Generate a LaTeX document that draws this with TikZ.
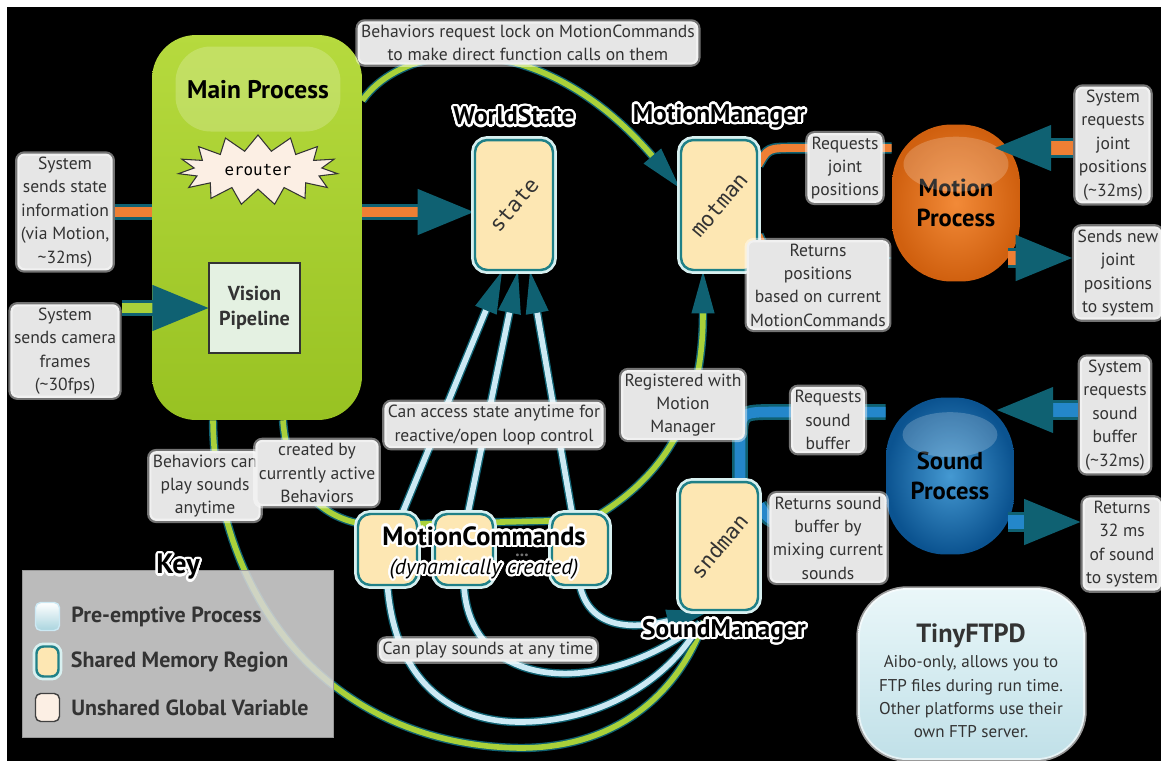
\documentclass[tikz,border=0pt]{standalone}
\usepackage{fontspec}
\setmainfont{PT Sans}
\setmonofont{DejaVu Sans Mono}
\usepackage{contour}
\contourlength{1.3pt}
\contournumber{24}
\usetikzlibrary{arrows.meta,shapes.symbols,calc}

\definecolor{limetop}{HTML}{B6DA3E}
\definecolor{limebot}{HTML}{98C222}
\definecolor{wiregreen}{HTML}{A9D13A}
\definecolor{tealx}{HTML}{0F6172}
\definecolor{barorange}{HTML}{EE7F34}
\definecolor{motorange}{HTML}{F28A38}
\definecolor{motdark}{HTML}{D0600F}
\definecolor{sndblue}{HTML}{2487CA}
\definecolor{snddark}{HTML}{0B5390}
\definecolor{wireblue}{HTML}{CCE9F4}
\definecolor{memyellow}{HTML}{FDE7B3}
\definecolor{boxteal}{HTML}{1F8087}
\definecolor{paleteal}{HTML}{D8F0F0}
\definecolor{erfill}{HTML}{FCEFE4}
\definecolor{visfill}{HTML}{E4F1E2}
\definecolor{keygray}{HTML}{D5D5D5}
\definecolor{notegray}{HTML}{E6E6E6}
\definecolor{ftptop}{HTML}{EAF7F9}
\definecolor{ftpbot}{HTML}{C0E0E8}
\definecolor{textgray}{HTML}{333333}

\pgfdeclarelayer{back}
\pgfdeclarelayer{wires}
\pgfdeclarelayer{front}
\pgfsetlayers{back,wires,main,front}

\newcommand\notesize{\fontsize{10}{13.3}\selectfont}
\newcommand\titlesize{\fontsize{14.5}{16}\selectfont}

\tikzset{
  note/.style={fill=notegray, rounded corners=4pt, inner sep=2pt, align=center,
    font=\notesize, text=textgray, draw=white, draw opacity=0.45, line width=2.5pt},
  shm/.style={rectangle, rounded corners=7pt, fill=memyellow, draw=boxteal,
    line width=1.4pt, preaction={draw=paleteal, line width=4.5pt}},
  memtext/.style={rotate=50, font=\ttfamily\fontsize{12}{12}\selectfont, text=black!80},
  bigtitle/.style={font=\titlesize\bfseries, text=black},
  gloss/.style={fill=white, fill opacity=0.2, draw=none},
  proc/.style 2 args={rectangle, rounded corners=34pt, minimum width=2.56cm,
    minimum height=3.14cm, inner color=#1, outer color=#2, align=center,
    font=\fontsize{14}{17}\bfseries\selectfont},
  bar/.style={draw=tealx, line width=1.5pt, double=#1, double distance=6pt},
  fatbar/.style={draw=tealx, line width=1.3pt, double=#1, double distance=8.5pt},
  thinbar/.style={draw=tealx, line width=0.9pt, double=#1, double distance=4.5pt},
  wire/.style={draw=tealx, line width=0.8pt, double=#1, double distance=3.2pt},
  bighead/.style={-{Triangle[length=32pt,width=26pt]}},
  midhead/.style={-{Triangle[length=18pt,width=15pt]}},
  smallhead/.style={-{Triangle[length=24pt,width=13pt]}},
  keyicon/.style={rectangle, minimum width=0.48cm, minimum height=0.56cm,
    rounded corners=3pt, line width=0.8pt},
  keytext/.style={anchor=west, font=\fontsize{12.5}{14}\bfseries\selectfont, text=black!80},
}

\begin{document}
\begin{tikzpicture}[x=0.02cm, y=-0.02cm]
\useasboundingbox (0,0) rectangle (1161,769);
\begin{pgfonlayer}{back}
  \fill[white] (0,0) rectangle (1161,769);
  \fill[black] (7,7) rectangle (1161,761);
\end{pgfonlayer}

% Main Process
\node[rectangle, rounded corners=25pt, minimum width=4.2cm, minimum height=7.7cm,
  top color=limetop, bottom color=limebot] (main) at (257,227.5) {};
\node[gloss, rounded corners=20pt, minimum width=3.3cm, minimum height=1.7cm] (maingloss) at (258,89) {};
\node[bigtitle] (maintitle) at (258,90) {Main Process};
\node[starburst, starburst points=15, starburst point height=9pt, random starburst=0,
  fill=erfill, draw=black!80, line width=0.6pt, minimum width=3.2cm, minimum height=1.4cm,
  font=\ttfamily\fontsize{9}{10}\selectfont] (erouter) at (258,170) {erouter};
\node[rectangle, draw=black!80, line width=0.6pt, fill=visfill, minimum width=1.82cm,
  minimum height=1.8cm, align=center, font=\fontsize{11.5}{14}\bfseries\selectfont,
  text=textgray] (vision) at (254.5,308) {Vision\\Pipeline};

% Shared memory regions
\node[shm, minimum width=1.56cm, minimum height=2.6cm] (state) at (514,205) {};
\node[memtext] (statetext) at (state) {state};
\node[shm, minimum width=1.52cm, minimum height=2.6cm] (motman) at (719,205) {};
\node[memtext] (motmantext) at (motman) {motman};
\node[shm, minimum width=1.56cm, minimum height=2.56cm] (sndman) at (719,546) {};
\node[memtext] (sndmantext) at (sndman) {sndman};
\foreach \n/\x/\w in {1/387.5/1.18cm, 2/464/1.16cm, 3/580/1.12cm}
  \node[shm, minimum width=\w, minimum height=1.42cm] (mc\n) at (\x,549.5) {};
\node[text=black!55, font=\bfseries] (mcdots) at (522,555) {...};
\node[font=\fontsize{15}{16}\bfseries\selectfont] (mctitle) at (484,537) {\contour{white}{MotionCommands}};
\node[font=\fontsize{12.5}{14}\itshape\selectfont] (mcsub) at (484,570) {\contour{white}{(dynamically created)}};

% Titles
\node[bigtitle] (wstitle) at (514,117) {\contour{white}{WorldState}};
\node[bigtitle] (mmtitle) at (719,117) {\contour{white}{MotionManager}};
\node[bigtitle] (smtitle) at (724,632) {\contour{white}{SoundManager}};

% Processes
\node[proc={motorange}{motdark}] (motion) at (956,203) {Motion\\Process};
\fill[gloss] ($(motion.north)+(0,-0.8cm)$) ellipse [x radius=1.05cm, y radius=0.55cm];
\node[proc={sndblue!85!white}{snddark}] (sound) at (950,476) {Sound\\Process};
\fill[gloss] ($(sound.north)+(0,-0.75cm)$) ellipse [x radius=0.95cm, y radius=0.45cm];

% TinyFTPD
\node[rectangle, rounded corners=28pt, minimum width=4.54cm, minimum height=3.44cm,
  top color=ftptop, bottom color=ftpbot, draw=white, draw opacity=0.6, line width=2pt] (ftp) at (971.5,674) {};
\node[align=center, text=textgray, font=\fontsize{9.7}{13.3}\selectfont] (ftptext) at (971,681)
  {{\fontsize{15}{18}\bfseries\selectfont TinyFTPD}\\[1pt]
   Aibo-only, allows you to\\FTP files during run time.\\Other platforms use their\\own FTP server.};

% Key
\node[rectangle, fill=keygray, fill opacity=0.88, draw=black!40, minimum width=6.22cm,
  minimum height=3.34cm] (key) at (177.5,653.5) {};
\node[font=\fontsize{16}{18}\bfseries\selectfont] (keytitle) at (178,568) {\contour{white}{Key}};
\node[keyicon, top color=white, bottom color=wireblue!80!boxteal, draw=wireblue] (keypre) at (47.5,616.5) {};
\node[shm, minimum width=0.44cm, minimum height=0.6cm, rounded corners=4pt] (keyshm) at (47.5,661.5) {};
\node[keyicon, fill=erfill, draw=black!75] (keyglob) at (47.5,707.5) {};
\node[keytext] (keyprelabel) at ([xshift=0.1cm]keypre.east) {Pre-emptive Process};
\node[keytext] (keyshmlabel) at ([xshift=0.1cm]keyshm.east) {Shared Memory Region};
\node[keytext] (keygloblabel) at ([xshift=0.1cm]keyglob.east) {Unshared Global Variable};

% Notes
\node[note] (syssend) at (65,212) {System\\sends state\\information\\(via Motion,\\\textasciitilde32ms)};
\node[note] (syscam) at (65,351) {System\\sends camera\\frames\\(\textasciitilde30fps)};
\node[note] (toplock) at (528,43) {Behaviors request lock on MotionCommands\\to make direct function calls on them};
\node[note] (reqjoint) at (845,168) {Requests\\joint\\positions};
\node[note] (retpos) at (818,285) {Returns\\positions\\based on current\\MotionCommands};
\node[note] (sysjoint) at (1113,145) {System\\requests\\joint\\positions\\(\textasciitilde32ms)};
\node[note] (sendjoint) at (1118,273) {Sends new\\joint\\positions\\to system};
\node[note] (access) at (494,425) {Can access state anytime for\\reactive/open loop control};
\node[note] (registered) at (683,405) {Registered with\\Motion\\Manager};
\node[note] (reqsound) at (828,420) {Requests\\sound\\buffer};
\node[note] (retsound) at (828,538) {Returns sound\\buffer by\\mixing current\\sounds};
\node[note] (syssound) at (1115,415) {System\\requests\\sound\\buffer\\(\textasciitilde32ms)};
\node[note] (retsys) at (1122,544) {Returns\\32 ms\\of sound\\to system};
\node[note] (playany) at (205,486) {Behaviors can\\play sounds\\anytime};
\node[note] (createdby) at (317,473) {created by\\currently active\\Behaviors};
\node[note] (playsounds) at (488,650) {Can play sounds at any time};

\coordinate (motin) at (995,148);
\coordinate (motout) at (1008,258);
\coordinate (sndin) at (997,410);
\coordinate (sndout) at (1008,522);

\begin{pgfonlayer}{wires}
  % Behaviors -> motman (lock)
  \draw[wire=wiregreen, smallhead] ([yshift=2.54cm]main.east)
    .. controls (405,40) and (540,25) .. ([yshift=0.34cm]motman.west);
  % created by behaviors, registered with motion manager
  \draw[wire=wiregreen, smallhead] ([xshift=0.52cm]main.south)
    .. controls (288,485) and (320,520) .. (370,525) -- (590,520)
    .. controls (660,480) and (703,420) .. ([xshift=-0.32cm]motman.south);
  % behaviors play sounds
  \draw[wire=wiregreen] ([xshift=-0.88cm]main.south)
    .. controls (215,600) and (330,745) .. (520,748)
    .. controls (620,748) and (680,690) .. ([xshift=-0.3cm,yshift=-0.2cm]sndman.south);
  % MotionCommands -> state
  \draw[wire=wireblue, smallhead] ([xshift=0.3cm]mc1.north) -- ([xshift=-0.24cm]state.south);
  \draw[wire=wireblue, smallhead] ([xshift=0.08cm]mc2.north) -- ([xshift=0.08cm]state.south);
  \draw[wire=wireblue, smallhead] ([xshift=-0.16cm]mc3.north) -- ([xshift=0.32cm]state.south);
  % MotionCommands -> sndman
  \draw[wire=wireblue] (mc1.south) .. controls (395,680) and (450,722) .. (520,722)
    .. controls (600,722) and (670,680) .. ([xshift=-0.38cm,yshift=-0.24cm]sndman.south);
  \draw[wire=wireblue] (mc2.south) .. controls (470,690) and (600,700)
    .. ([xshift=-0.38cm,yshift=-0.24cm]sndman.south);
  \draw[wire=wireblue, smallhead] (mc3.south) .. controls (590,628) and (630,630)
    .. ([xshift=-0.2cm]sndman.south);
  % System state -> state
  \draw[bar=barorange, bighead] (syssend.east) -- (syssend.east -| state.west);
  % motman <-> Motion Process
  \draw[thinbar=barorange] ([yshift=0.8cm]motman.east) .. controls (768,148) .. (795,148)
    -- ([yshift=1.1cm]motion.west);
  \draw[thinbar=barorange, midhead] ([yshift=-0.6cm]motman.east) .. controls (768,258) .. (795,258)
    -- ([yshift=-1.1cm]motion.west);
  % sndman <-> Sound Process
  \draw[bar=sndblue] ([xshift=0.42cm]sndman.north) -- (740,445) .. controls (740,412) .. (775,412)
    -- ([yshift=1.28cm]sound.west);
  \draw[bar=sndblue, midhead] ([yshift=0.82cm]sndman.east) .. controls (770,522) .. (800,522)
    -- ([yshift=-0.92cm]sound.west);
\end{pgfonlayer}

\begin{pgfonlayer}{front}
  \draw[bar=wiregreen, bighead] (vision.west -| syscam.east) -- (vision.west);
  \draw[fatbar=barorange, bighead] (sysjoint.west |- motin) -- (motin);
  \draw[fatbar=barorange, bighead] (motout) -- (motout -| sendjoint.west);
  \draw[fatbar=sndblue, bighead] (syssound.west |- sndin) -- (sndin);
  \draw[fatbar=sndblue, bighead] (sndout) -- (sndout -| retsys.west);
\end{pgfonlayer}
\end{tikzpicture}
\end{document}
